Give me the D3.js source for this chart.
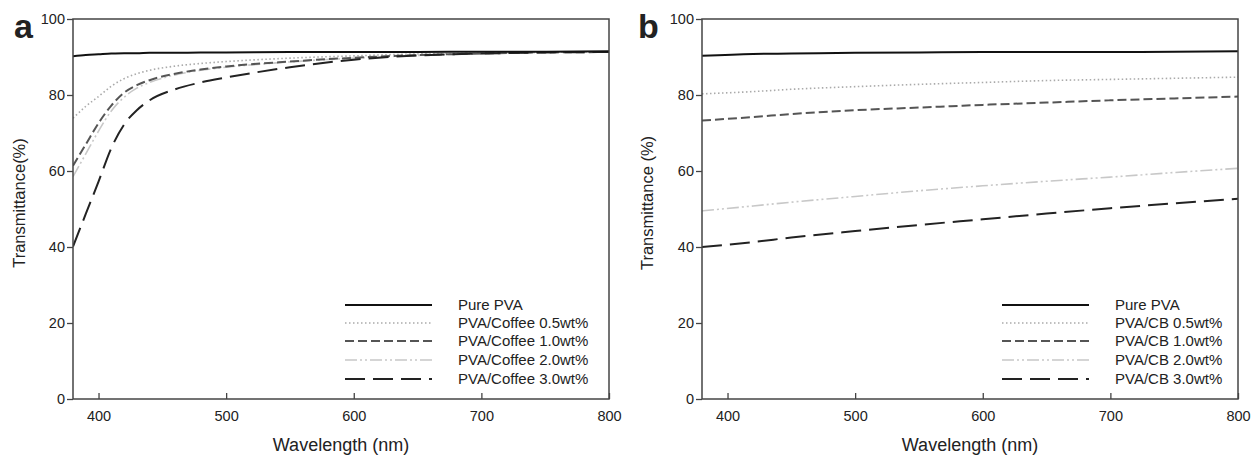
<!DOCTYPE html>
<html>
<head>
<meta charset="utf-8">
<script src="https://cdn.jsdelivr.net/npm/d3@7"></script>
<style>
  body { margin: 0; background: #fff; }
  text { font-family: "Liberation Sans", Arial, sans-serif; fill: #222; }
</style>
</head>
<body>
<svg id="chart"></svg>
<script>
var w = 1251;
var h = 457;

// panel a: PVA / coffee films
var waveA = [380, 390, 400, 410, 420, 430, 440, 460, 480, 500, 550, 600, 650, 700, 750, 800];
var pureA = [90.2, 90.5, 90.7, 90.9, 91.0, 91.0, 91.1, 91.1, 91.2, 91.2, 91.3, 91.3, 91.3, 91.4, 91.4, 91.5];
var coffee05 = [73.9, 77.0, 79.6, 82.3, 84.3, 85.6, 86.5, 87.6, 88.3, 88.8, 89.7, 90.3, 90.8, 91.0, 91.2, 91.3];
var coffee10 = [61.4, 67.0, 72.6, 77.2, 80.6, 82.6, 83.9, 85.6, 86.7, 87.5, 88.8, 89.8, 90.5, 90.9, 91.2, 91.3];
var coffee20 = [58.5, 64.5, 70.5, 75.8, 79.4, 81.8, 83.3, 85.3, 86.5, 87.3, 88.7, 89.7, 90.4, 90.9, 91.2, 91.3];
var coffee30 = [40.1, 48.7, 57.2, 66.0, 72.2, 76.0, 78.6, 81.5, 83.3, 84.6, 87.3, 89.3, 90.4, 90.9, 91.2, 91.3];

// panel b: PVA / CB films
var waveB = [380, 420, 450, 500, 550, 600, 650, 700, 750, 800];
var pureB = [90.3, 90.8, 90.9, 91.1, 91.2, 91.3, 91.3, 91.3, 91.4, 91.5];
var cb05 = [80.3, 80.9, 81.5, 82.2, 82.8, 83.3, 83.8, 84.1, 84.4, 84.7];
var cb10 = [73.3, 74.2, 75.0, 76.0, 76.7, 77.4, 78.0, 78.6, 79.1, 79.6];
var cb20 = [49.5, 50.8, 51.8, 53.3, 54.8, 56.1, 57.3, 58.4, 59.6, 60.7];
var cb30 = [40.0, 41.3, 42.5, 44.2, 45.8, 47.3, 48.8, 50.2, 51.5, 52.7];

var xTicks = [400, 500, 600, 700, 800];
var yTicks = [0, 20, 40, 60, 80, 100];

var styles = [
  {color: "#111", width: 2, dash: null},
  {color: "#aaa", width: 1.6, dash: "1.5,2.5"},
  {color: "#555", width: 2, dash: "9,4"},
  {color: "#c8c8c8", width: 1.6, dash: "12,3,2,3,2,3"},
  {color: "#222", width: 2, dash: "20,8"}
];

var svg = d3.select("#chart").attr("width", w).attr("height", h);

drawPanel({
  left: 73, right: 609, label: "a", labelX: 14, yTitle: "Transmittance(%)", yTitleX: 19,
  wave: waveA, series: [pureA, coffee05, coffee10, coffee20, coffee30],
  names: ["Pure PVA", "PVA/Coffee 0.5wt%", "PVA/Coffee 1.0wt%", "PVA/Coffee 2.0wt%", "PVA/Coffee 3.0wt%"],
  legX: 345
});

drawPanel({
  left: 702, right: 1238, label: "b", labelX: 638, yTitle: "Transmittance (%)", yTitleX: 647,
  wave: waveB, series: [pureB, cb05, cb10, cb20, cb30],
  names: ["Pure PVA", "PVA/CB 0.5wt%", "PVA/CB 1.0wt%", "PVA/CB 2.0wt%", "PVA/CB 3.0wt%"],
  legX: 1002
});

function drawPanel(p) {
  var top = 19, bottom = 399;
  var x = d3.scaleLinear().domain([380, 800]).range([p.left, p.right]);
  var y = d3.scaleLinear().domain([0, 100]).range([bottom, top]);
  var g = svg.append("g");
  var clipId = "clip" + p.label;

  g.append("clipPath").attr("id", clipId)
    .append("rect")
    .attr("x", p.left).attr("y", top)
    .attr("width", p.right - p.left).attr("height", bottom - top);

  var line = d3.line()
    .x(function(d) { return x(d[0]); })
    .y(function(d) { return y(d[1]); })
    .curve(d3.curveMonotoneX);

  // draw heavier lines last so they sit on top, like the original
  var order = [3, 1, 2, 4, 0];
  order.forEach(function(i) {
    var pts = p.wave.map(function(wl, k) { return [wl, p.series[i][k]]; });
    g.append("path")
      .attr("d", line(pts))
      .attr("clip-path", "url(#" + clipId + ")")
      .attr("fill", "none")
      .attr("stroke", styles[i].color)
      .attr("stroke-width", styles[i].width)
      .attr("stroke-dasharray", styles[i].dash);
  });

  // y axis, ticks outward
  var yAxis = g.append("g")
    .attr("transform", "translate(" + p.left + ",0)")
    .call(d3.axisLeft(y).tickValues(yTicks).tickSize(6).tickPadding(2));
  yAxis.select(".domain").remove();
  yAxis.selectAll("line").attr("stroke", "#444").attr("stroke-width", 1.3);
  yAxis.selectAll("text").style("font-size", "14.5px").style("font-family", "Liberation Sans, Arial, sans-serif").attr("fill", "#222");

  // x axis, ticks inward
  var xAxis = g.append("g")
    .attr("transform", "translate(0," + bottom + ")")
    .call(d3.axisBottom(x).tickValues(xTicks).tickSize(-6).tickPadding(12));
  xAxis.select(".domain").remove();
  xAxis.selectAll("line").attr("stroke", "#444").attr("stroke-width", 1.3);
  xAxis.selectAll("text").style("font-size", "14.5px").style("font-family", "Liberation Sans, Arial, sans-serif").attr("fill", "#222");

  // frame
  g.append("rect")
    .attr("x", p.left).attr("y", top)
    .attr("width", p.right - p.left).attr("height", bottom - top)
    .attr("fill", "none").attr("stroke", "#444").attr("stroke-width", 1.5);

  g.append("text")
    .attr("x", (p.left + p.right) / 2).attr("y", 451)
    .attr("text-anchor", "middle")
    .style("font-size", "18px")
    .text("Wavelength (nm)");

  g.append("text")
    .attr("transform", "translate(" + (p.yTitleX + 6) + "," + ((top + bottom) / 2 - 6) + ") rotate(-90)")
    .attr("text-anchor", "middle")
    .style("font-size", "16.5px")
    .text(p.yTitle);

  g.append("text")
    .attr("x", p.labelX).attr("y", 38)
    .style("font-size", "34px").style("font-weight", "bold")
    .attr("fill", "#111")
    .text(p.label);

  // legend
  var legY = [305, 323, 341, 360, 379];
  p.names.forEach(function(name, i) {
    g.append("line")
      .attr("x1", p.legX).attr("x2", p.legX + 87)
      .attr("y1", legY[i]).attr("y2", legY[i])
      .attr("stroke", styles[i].color)
      .attr("stroke-width", styles[i].width)
      .attr("stroke-dasharray", styles[i].dash);
    g.append("text")
      .attr("x", p.legX + 113).attr("y", legY[i] + 5)
      .style("font-size", "15px")
      .text(name);
  });
}
</script>
</body>
</html>
